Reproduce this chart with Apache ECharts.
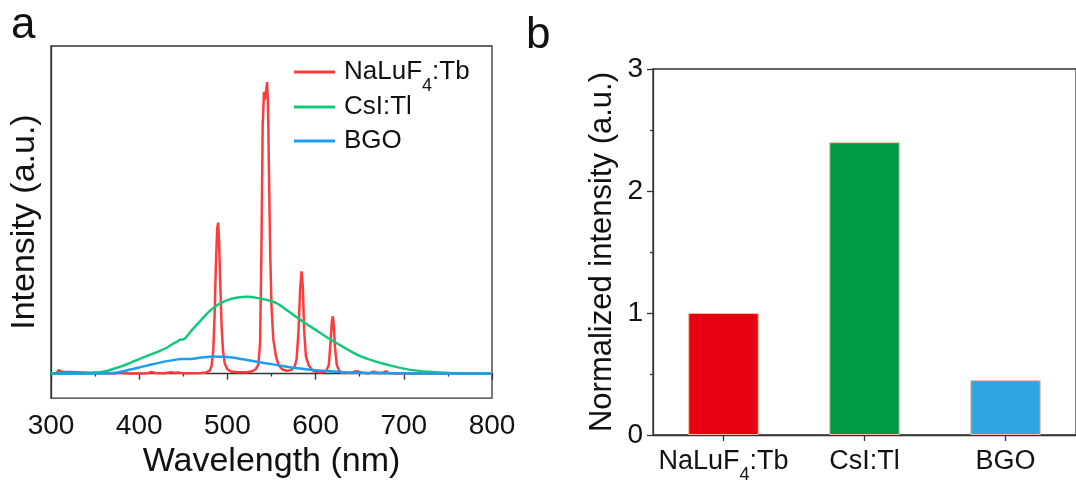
<!DOCTYPE html>
<html>
<head>
<meta charset="utf-8">
<script src="https://cdn.jsdelivr.net/npm/echarts@6/dist/echarts.min.js"></script>
<style>
  html, body { margin: 0; padding: 0; background: #fff; }
  #chart { width: 1076px; height: 484px; }
</style>
</head>
<body>
<div id="chart"></div>
<script>
// Panel a: emission spectra (wavelength in nm, intensity in a.u., baseline 0, NaLuF4:Tb max 1)
const tbWavelength = [300, 306, 308.5, 310.5, 312, 314, 372, 376, 379, 382, 388, 405, 410, 414, 418, 428, 434, 437, 440, 444, 447, 455, 470, 476, 480, 482, 484, 485.5, 487, 488.5, 489.5, 490.5, 492, 493.5, 495, 497, 500, 504, 512, 522, 528, 532, 535, 537, 538.5, 540, 541.5, 542.5, 543.5, 545, 546, 547, 548.5, 550, 552, 555, 558, 562, 567, 572, 576, 578.5, 580.5, 582.5, 584, 585.5, 587, 589, 592, 596, 600, 606, 612, 615, 617, 618.5, 619.5, 620.5, 622, 624, 627, 632, 640, 644, 648, 652, 660, 666, 668, 671, 677, 680, 683, 690, 700, 800];
const tbIntensity = [0, 0, 0.012, 0.017, 0.006, 0, 0, 0.003, 0.005, 0.002, 0, 0, 0.002, 0.006, 0.002, 0.001, 0.004, 0.005, 0.002, 0.004, 0.002, 0.001, 0.002, 0.004, 0.01, 0.025, 0.08, 0.2, 0.38, 0.5, 0.518, 0.46, 0.3, 0.16, 0.08, 0.035, 0.015, 0.007, 0.005, 0.005, 0.008, 0.015, 0.03, 0.1, 0.4, 0.85, 0.967, 0.94, 0.96, 1.0, 0.93, 0.72, 0.42, 0.23, 0.12, 0.06, 0.03, 0.015, 0.01, 0.012, 0.022, 0.05, 0.14, 0.29, 0.351, 0.3, 0.15, 0.06, 0.03, 0.012, 0.006, 0.004, 0.008, 0.03, 0.11, 0.18, 0.197, 0.17, 0.09, 0.03, 0.008, 0.002, 0.003, 0.007, 0.008, 0.003, 0.001, 0.007, 0.009, 0.002, 0.004, 0.008, 0.002, 0, 0, 0];

const csiWavelength = [300, 330, 345, 360, 375, 390, 400, 410, 420, 430, 437, 443, 447, 450, 453, 460, 470, 480, 490, 500, 510, 522, 535, 555, 570, 586, 600, 617, 635, 652, 672, 690, 710, 730, 750, 770, 800];
const csiIntensity = [0, 0.0005, 0.002, 0.007, 0.02, 0.037, 0.05, 0.062, 0.074, 0.087, 0.1, 0.11, 0.117, 0.117, 0.124, 0.15, 0.183, 0.215, 0.238, 0.252, 0.26, 0.264, 0.259, 0.243, 0.212, 0.178, 0.15, 0.117, 0.085, 0.058, 0.038, 0.024, 0.012, 0.006, 0.002, 0.001, 0];

const bgoWavelength = [300, 340, 360, 375, 390, 400, 415, 430, 440, 447, 455, 470, 484, 500, 516, 535, 555, 575, 594, 615, 633, 655, 680, 720, 800];
const bgoIntensity = [0, 0, 0.001, 0.004, 0.014, 0.021, 0.032, 0.042, 0.047, 0.05, 0.05, 0.055, 0.059, 0.057, 0.05, 0.04, 0.03, 0.02, 0.013, 0.008, 0.005, 0.003, 0.0015, 0.0005, 0];

const wavelengthTicks = [300, 400, 500, 600, 700, 800];

// Panel b: normalized integrated intensity
const scintillators = ['NaLuF4:Tb', 'CsI:Tl', 'BGO'];
const normalizedIntensity = [1.0, 2.4, 0.45];
const barColors = ['#e60012', '#009a44', '#2ea7e0'];
const normalizedTicks = [0, 1, 2, 3];

const lineColors = { 'NaLuF4:Tb': '#ff3b3b', 'CsI:Tl': '#12c97b', 'BGO': '#1e9cf0' };

const FONT = "'Liberation Sans', Arial, sans-serif";
const INK = '#111';

function zip(xs, ys) { return xs.map((x, i) => [x, ys[i]]); }

// Subscript the "4" in NaLuF4
function chemLabel(name) {
  return name.replace(/F4/, 'F{sub|4}');
}

function legendFor(name, top) {
  return {
    data: [{ name: name, icon: 'rect', itemStyle: { color: lineColors[name] } }],
    left: 294,
    top: top,
    orient: 'vertical',
    padding: 0,
    itemWidth: 41,
    itemHeight: 3,
    formatter: chemLabel,
    textStyle: {
      fontFamily: FONT, fontSize: 26, color: INK, lineHeight: 28,
      padding: [0, 0, 0, 4],
      rich: { sub: { fontFamily: FONT, fontSize: 18, lineHeight: 18, color: INK, verticalAlign: 'bottom', padding: [0, 0, -9, 0] } }
    }
  };
}

const chart = echarts.init(document.getElementById('chart'), null, { renderer: 'canvas' });

const option = {
  animation: false,
  backgroundColor: '#fff',
  textStyle: { fontFamily: FONT },
  legend: [
    legendFor('NaLuF4:Tb', 58),
    legendFor('CsI:Tl', 93),
    legendFor('BGO', 127)
  ],
  grid: [
    { left: 51, right: 584, top: 46, bottom: 77, show: true, borderColor: '#333', borderWidth: 1.3, containLabel: false },
    { left: 653, right: -12, top: 69, bottom: 46.5, show: true, borderColor: '#333', borderWidth: 1.3, containLabel: false }
  ],
  xAxis: [
    {
      gridIndex: 0, type: 'value', min: 300, max: 800, interval: 100,
      name: 'Wavelength (nm)', nameLocation: 'middle', nameGap: 45,
      nameTextStyle: { fontFamily: FONT, fontSize: 34, color: INK },
      axisLine: { show: true, lineStyle: { color: '#333', width: 1.3 } },
      axisTick: { show: true, inside: false, length: 6, lineStyle: { color: '#333', width: 1.3 } },
      minorTick: { show: true, splitNumber: 2, length: 3, lineStyle: { color: '#333', width: 1.3 } },
      splitLine: { show: false },
      axisLabel: {
        fontFamily: FONT, fontSize: 28, color: INK, margin: 14,
        formatter: v => (wavelengthTicks.includes(v) ? String(v) : '')
      }
    },
    {
      gridIndex: 1, type: 'category', data: scintillators, boundaryGap: true,
      axisLine: { show: true, lineStyle: { color: '#333', width: 1.3 } },
      axisTick: { show: true, alignWithLabel: true, inside: false, length: 6, lineStyle: { color: '#333', width: 1.3 } },
      axisLabel: {
        interval: 0,
        fontFamily: FONT, fontSize: 27, color: INK, margin: 13,
        formatter: chemLabel,
        rich: { sub: { fontFamily: FONT, fontSize: 18, lineHeight: 18, color: INK, verticalAlign: 'bottom', padding: [0, 0, -9, 0] } }
      }
    }
  ],
  yAxis: [
    {
      gridIndex: 0, type: 'value', min: -0.084, max: 1.124,
      name: 'Intensity (a.u.)', nameLocation: 'middle', nameGap: 9, nameRotate: 90,
      nameTextStyle: { fontFamily: FONT, fontSize: 34, color: INK },
      axisLine: { show: true, lineStyle: { color: '#333', width: 1.3 } },
      axisTick: { show: false },
      axisLabel: { show: false },
      splitLine: { show: false }
    },
    {
      gridIndex: 1, type: 'value', min: 0, max: 3, interval: 1,
      name: 'Normalized intensity (a.u.)', nameLocation: 'middle', nameGap: 35, nameRotate: 90,
      nameTextStyle: { fontFamily: FONT, fontSize: 31, color: INK },
      axisLine: { show: true, lineStyle: { color: '#333', width: 1.3 } },
      axisTick: { show: true, inside: false, length: 6, lineStyle: { color: '#333', width: 1.3 } },
      minorTick: { show: true, splitNumber: 2, length: 3, lineStyle: { color: '#333', width: 1.3 } },
      splitLine: { show: false },
      axisLabel: {
        fontFamily: FONT, fontSize: 28, color: INK, margin: 10,
        formatter: v => (normalizedTicks.includes(v) ? String(v) : '')
      }
    }
  ],
  series: [
    {
      name: 'NaLuF4:Tb', type: 'line', xAxisIndex: 0, yAxisIndex: 0,
      data: zip(tbWavelength, tbIntensity), symbol: 'none', smooth: false,
      lineStyle: { color: lineColors['NaLuF4:Tb'], width: 2.5 }, itemStyle: { color: lineColors['NaLuF4:Tb'] }
    },
    {
      name: 'CsI:Tl', type: 'line', xAxisIndex: 0, yAxisIndex: 0,
      data: zip(csiWavelength, csiIntensity), symbol: 'none', smooth: 0.3,
      lineStyle: { color: lineColors['CsI:Tl'], width: 2.5 }, itemStyle: { color: lineColors['CsI:Tl'] }
    },
    {
      name: 'BGO', type: 'line', xAxisIndex: 0, yAxisIndex: 0,
      data: zip(bgoWavelength, bgoIntensity), symbol: 'none', smooth: 0.3,
      lineStyle: { color: lineColors['BGO'], width: 2.5 }, itemStyle: { color: lineColors['BGO'] }
    },
    {
      name: 'Normalized', type: 'bar', xAxisIndex: 1, yAxisIndex: 1,
      barWidth: '50%',
      data: normalizedIntensity.map((v, i) => ({
        value: v,
        itemStyle: { color: barColors[i], borderColor: '#f2c49b', borderWidth: 1 }
      }))
    }
  ],
  graphic: [
    { type: 'text', left: 11, top: 4, style: { text: 'a', fontFamily: FONT, fontSize: 44, fill: INK } },
    { type: 'text', left: 526, top: 14, style: { text: 'b', fontFamily: FONT, fontSize: 44, fill: INK } }
  ]
};

chart.setOption(option);
</script>
</body>
</html>
